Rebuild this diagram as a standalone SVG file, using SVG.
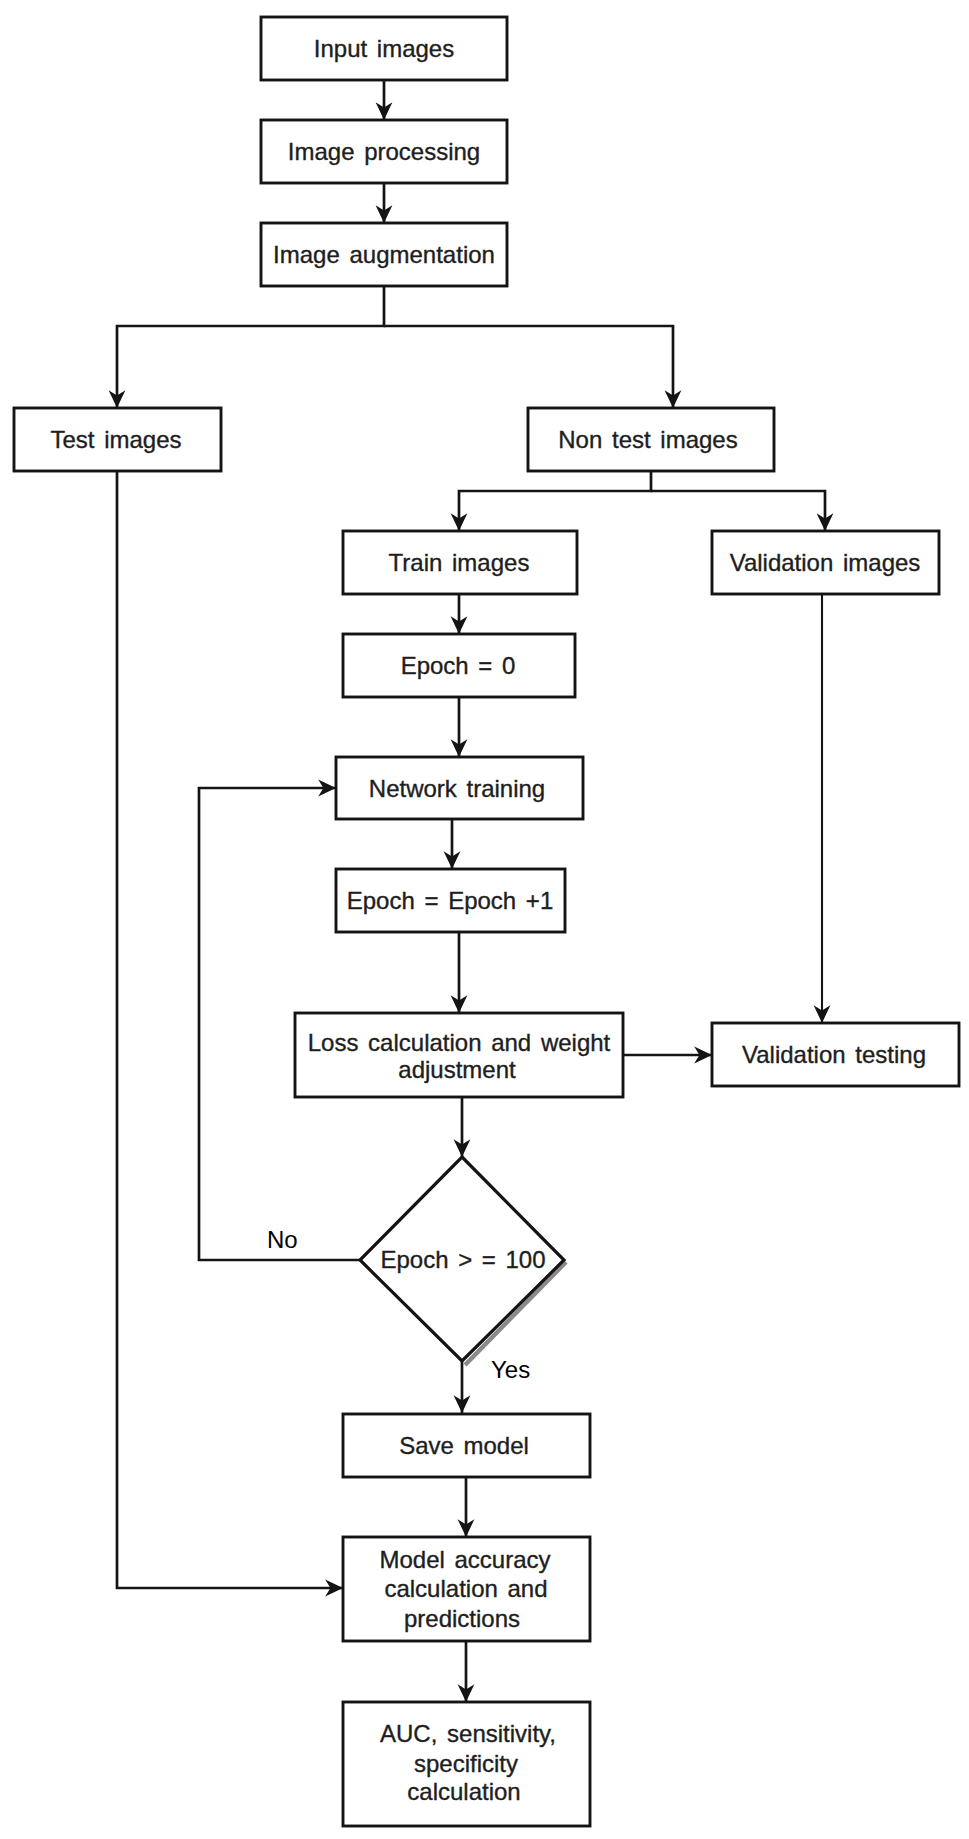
<svg xmlns="http://www.w3.org/2000/svg" width="969" height="1839" viewBox="0 0 969 1839">
  <style>
    .box { fill: #ffffff; stroke: #141414; stroke-width: 2.9; }
    .lbl { font-family: "Liberation Sans", Arial, sans-serif; font-size: 24px; fill: #1e1e1e; stroke: #1e1e1e; stroke-width: 0.35; text-anchor: middle; word-spacing: 3px; }
    .tag { font-family: "Liberation Sans", Arial, sans-serif; font-size: 24px; fill: #000000; }
    .wire { fill: none; stroke: #141414; stroke-width: 2.7; stroke-linejoin: miter; }
    .thin { stroke-width: 2.1; }
  </style>
  <defs>
    <marker id="head" markerUnits="userSpaceOnUse" markerWidth="22" markerHeight="22" viewBox="-19 -10 21 20" refX="0" refY="0" orient="auto">
      <path d="M0,0 L-17,-8 L-12,0 L-17,8 Z" fill="#141414"/>
    </marker>
  </defs>

  <rect width="969" height="1839" fill="#ffffff"/>

  <!-- connectors -->
  <g id="connectors">
    <path class="wire" d="M384,80 V120" marker-end="url(#head)"/>
    <path class="wire" d="M384,183 V223" marker-end="url(#head)"/>
    <path class="wire" d="M384,286 V326 H117 V408" marker-end="url(#head)"/>
    <path class="wire" d="M384,326 H673 V408" marker-end="url(#head)"/>
    <path class="wire" d="M651,471 V491 H459 V531" marker-end="url(#head)"/>
    <path class="wire" d="M651,491 H825 V531" marker-end="url(#head)"/>
    <path class="wire" d="M459,594 V634" marker-end="url(#head)"/>
    <path class="wire" d="M459,697 V757" marker-end="url(#head)"/>
    <path class="wire" d="M452,819 V869" marker-end="url(#head)"/>
    <path class="wire" d="M459,932 V1013" marker-end="url(#head)"/>
    <path class="wire thin" d="M822,594 V1023" marker-end="url(#head)"/>
    <path class="wire" d="M623,1055 H712" marker-end="url(#head)"/>
    <path class="wire" d="M462,1097 V1157" marker-end="url(#head)"/>
    <path class="wire" d="M462,1361 V1413" marker-end="url(#head)"/>
    <path class="wire" d="M360,1260 H199 V788 H336" marker-end="url(#head)"/>
    <path class="wire" d="M466,1477 V1537" marker-end="url(#head)"/>
    <path class="wire" d="M117,471 V1588 H343" marker-end="url(#head)"/>
    <path class="wire" d="M466,1641 V1702" marker-end="url(#head)"/>
    <text class="tag" x="267" y="1248">No</text>
    <text class="tag" x="491" y="1378">Yes</text>
  </g>

  <g id="input-images">
    <rect class="box" x="261" y="17" width="246" height="63"/>
    <text class="lbl" x="384" y="57">Input images</text>
  </g>
  <g id="image-processing">
    <rect class="box" x="261" y="120" width="246" height="63"/>
    <text class="lbl" x="384" y="160">Image processing</text>
  </g>
  <g id="image-augmentation">
    <rect class="box" x="261" y="223" width="246" height="63"/>
    <text class="lbl" x="384" y="263">Image augmentation</text>
  </g>
  <g id="test-images">
    <rect class="box" x="14" y="408" width="207" height="63"/>
    <text class="lbl" x="116" y="448">Test images</text>
  </g>
  <g id="non-test-images">
    <rect class="box" x="528" y="408" width="246" height="63"/>
    <text class="lbl" x="648" y="448">Non test images</text>
  </g>
  <g id="train-images">
    <rect class="box" x="343" y="531" width="234" height="63"/>
    <text class="lbl" x="459" y="571">Train images</text>
  </g>
  <g id="validation-images">
    <rect class="box" x="712" y="531" width="227" height="63"/>
    <text class="lbl" x="825" y="571">Validation images</text>
  </g>
  <g id="epoch-zero">
    <rect class="box" x="343" y="634" width="232" height="63"/>
    <text class="lbl" x="458" y="674">Epoch = 0</text>
  </g>
  <g id="network-training">
    <rect class="box" x="336" y="757" width="247" height="62"/>
    <text class="lbl" x="457" y="797">Network training</text>
  </g>
  <g id="epoch-increment">
    <rect class="box" x="336" y="869" width="229" height="63"/>
    <text class="lbl" x="450" y="909">Epoch = Epoch +1</text>
  </g>
  <g id="loss-calculation">
    <rect class="box" x="295" y="1013" width="328" height="84"/>
    <text class="lbl" x="459" y="1051">Loss calculation and weight</text>
    <text class="lbl" x="457" y="1078">adjustment</text>
  </g>
  <g id="validation-testing">
    <rect class="box" x="712" y="1023" width="247" height="63"/>
    <text class="lbl" x="834" y="1063">Validation testing</text>
  </g>
  <g id="epoch-check">
    <path d="M566,1262 L465,1365" fill="none" stroke="#8a8a8a" stroke-width="4.5"/>
    <polygon points="462,1157 564,1260 462,1361 360,1260" fill="#ffffff" stroke="#141414" stroke-width="3.2"/>
    <text class="lbl" x="463" y="1268">Epoch &gt; = 100</text>
  </g>
  <g id="save-model">
    <rect class="box" x="343" y="1414" width="247" height="63"/>
    <text class="lbl" x="464" y="1454">Save model</text>
  </g>
  <g id="model-accuracy">
    <rect class="box" x="343" y="1537" width="247" height="104"/>
    <text class="lbl" x="465" y="1568">Model accuracy</text>
    <text class="lbl" x="466" y="1597">calculation and</text>
    <text class="lbl" x="462" y="1627">predictions</text>
  </g>
  <g id="metrics">
    <rect class="box" x="343" y="1702" width="247" height="124"/>
    <text class="lbl" x="468" y="1742">AUC, sensitivity,</text>
    <text class="lbl" x="466" y="1772">specificity</text>
    <text class="lbl" x="464" y="1800">calculation</text>
  </g>
</svg>
